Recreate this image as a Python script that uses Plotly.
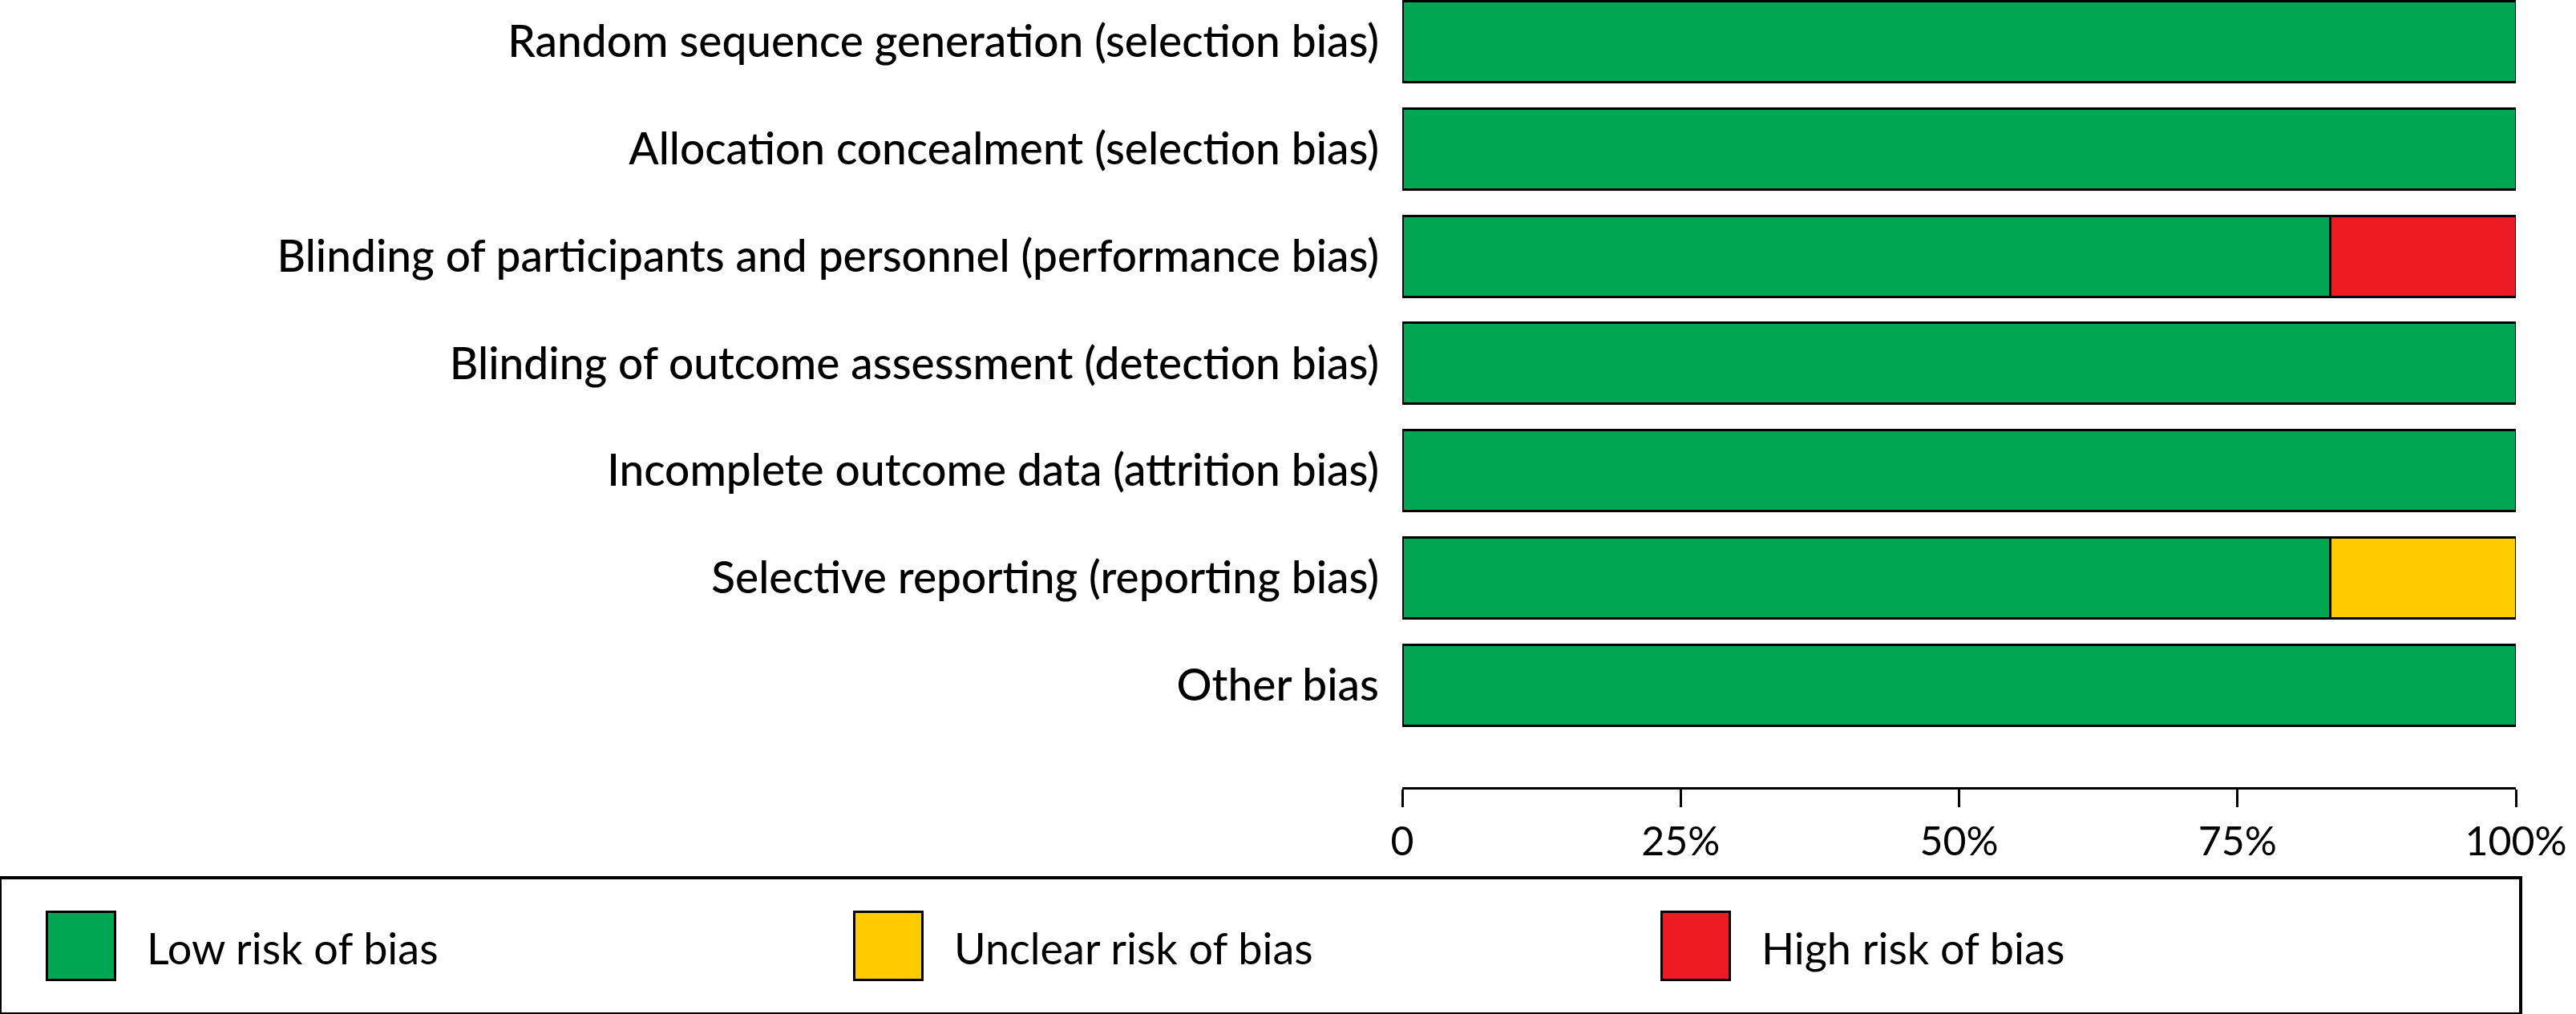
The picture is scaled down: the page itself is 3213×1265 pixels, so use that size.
import plotly.graph_objects as go

W, H = 3213, 1265

categories = [
    "Random sequence generation (selection bias)",
    "Allocation concealment (selection bias)",
    "Blinding of participants and personnel (performance bias)",
    "Blinding of outcome assessment (detection bias)",
    "Incomplete outcome data (attrition bias)",
    "Selective reporting (reporting bias)",
    "Other bias",
]
low_risk = [100, 100, 83.3, 100, 100, 83.3, 100]
unclear_risk = [0, 0, 0, 0, 0, 16.7, 0]
high_risk = [0, 0, 16.7, 0, 0, 0, 0]

tick_vals = [0, 25, 50, 75, 100]
tick_text = ["0", "25%", "50%", "75%", "100%"]

legend_names = ["Low risk of bias", "Unclear risk of bias", "High risk of bias"]
colors = ["#00A651", "#FFCC00", "#ED1C24"]

FONT = "Lato"

fig = go.Figure()
for name, vals, col in zip(legend_names, [low_risk, unclear_risk, high_risk], colors):
    fig.add_trace(go.Bar(
        y=categories, x=vals, orientation="h", name=name,
        marker=dict(color=col, line=dict(color="black", width=3)),
        width=0.755, showlegend=False, xaxis="x", yaxis="y",
    ))

# legend drawn as its own small subplot (swatches are bars on a legend axis)
leg_idx = list(range(len(legend_names)))
fig.add_trace(go.Bar(
    x=leg_idx, y=[1.036] * len(leg_idx), base=-0.518, width=0.0845,
    marker=dict(color=colors, line=dict(color="black", width=3)),
    xaxis="x3", yaxis="y3", showlegend=False, hoverinfo="skip",
))
for i, n in zip(leg_idx, legend_names):
    fig.add_annotation(x=i, y=0, xref="x3", yref="y3", text=n, showarrow=False,
                       xanchor="left", yanchor="middle", xshift=80, yshift=-2,
                       font=dict(family=FONT, size=54, color="black", weight=400))

fig.update_layout(
    template="none",
    width=W, height=H,
    margin=dict(l=0, r=0, t=0, b=0, pad=0),
    paper_bgcolor="white", plot_bgcolor="white",
    barmode="stack",
    font=dict(family=FONT, size=54, color="black"),
    xaxis=dict(domain=[1749 / W, 3138 / W], range=[0, 100], anchor="y", automargin=False,
               showgrid=False, zeroline=False, showline=True, linecolor="black", linewidth=3,
               ticks="outside", ticklen=22, tickwidth=3, tickcolor="black",
               tickvals=tick_vals, ticktext=tick_text, ticklabelstandoff=0,
               tickfont=dict(family=FONT, size=50, color="black")),
    xaxis2=dict(overlaying="x", matches="x", range=[0, 100], anchor="y", side="bottom",
                automargin=False, showgrid=False, zeroline=False, showline=False,
                ticks="inside", ticklen=22, tickwidth=3, tickcolor="black",
                tickvals=tick_vals, showticklabels=False),
    yaxis=dict(domain=[(H - 982) / H, 1], range=[6.951, -0.389], anchor="x", automargin=False,
               showgrid=False, zeroline=False, showline=False, ticks="",
               ticklabelstandoff=28,
               tickfont=dict(family=FONT, size=55, color="black", weight=500)),
    xaxis3=dict(domain=[0.0006, 3142 / W], range=[-99.5 / 1007.5, (3142 - 99.5) / 1007.5],
                anchor="y3", automargin=False, showgrid=False, zeroline=False,
                showticklabels=False, ticks="",
                showline=True, mirror=True, linecolor="black", linewidth=4),
    yaxis3=dict(domain=[(H - 1263) / H, (H - 1097) / H], range=[-1, 1], anchor="x3",
                automargin=False, showgrid=False, zeroline=False, showticklabels=False, ticks="",
                showline=True, mirror=True, linecolor="black", linewidth=4),
)

fig.write_html(
    "out.html",
    config={"displayModeBar": False},
    post_script="document.body.style.margin='0';document.body.style.overflow='hidden';",
)
